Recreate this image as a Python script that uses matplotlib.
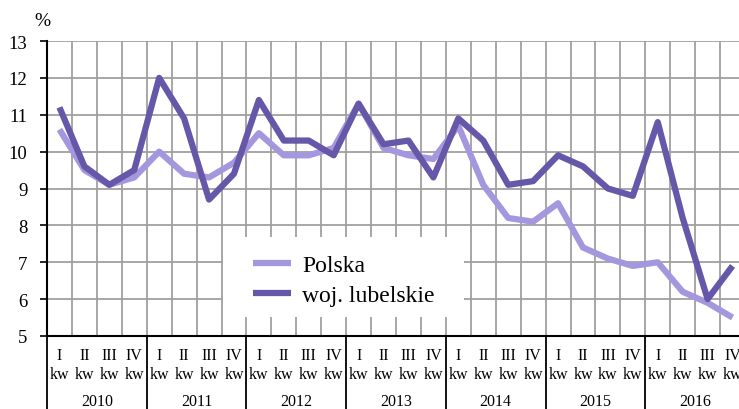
import matplotlib.pyplot as plt
import matplotlib.transforms as mtransforms
import matplotlib.patches as patches
import numpy as np

plt.rcParams['font.family'] = ['Liberation Serif', 'DejaVu Serif']

years = ['2010', '2011', '2012', '2013', '2014', '2015', '2016']
quarters = ['I', 'II', 'III', 'IV']

polska = [10.6, 9.5, 9.1, 9.3,
          10.0, 9.4, 9.3, 9.7,
          10.5, 9.9, 9.9, 10.1,
          11.3, 10.1, 9.9, 9.8,
          10.7, 9.1, 8.2, 8.1,
          8.6, 7.4, 7.1, 6.9,
          7.0, 6.2, 5.9, 5.5]
lubelskie = [11.2, 9.6, 9.1, 9.5,
             12.0, 10.9, 8.7, 9.4,
             11.4, 10.3, 10.3, 9.9,
             11.3, 10.2, 10.3, 9.3,
             10.9, 10.3, 9.1, 9.2,
             9.9, 9.6, 9.0, 8.8,
             10.8, 8.2, 6.0, 6.9]

LIGHT = '#a597de'
DARK = '#6657a8'
GRID = '#a0a0a0'

n = len(polska)
x = np.arange(n)

fig = plt.figure(figsize=(7.39, 4.10), dpi=100)
ax = fig.add_axes([47/739, 73/410, 698/739, 295/410])

ax.plot(x, polska, color=LIGHT, lw=4.5, label='Polska', solid_capstyle='butt', zorder=3)
ax.plot(x, lubelskie, color=DARK, lw=4.5, label='woj. lubelskie', solid_capstyle='butt', zorder=4)

ax.set_xlim(-0.5, n - 0.5)
ax.set_ylim(5, 13)
ax.set_yticks(range(5, 14))
ax.set_xticks(np.arange(-0.5, n, 1.0))
ax.set_xticklabels([])
ax.tick_params(axis='x', length=0)
ax.tick_params(axis='y', length=5, width=1.2, labelsize=13.5, pad=9, direction='out')
ax.grid(True, color=GRID, lw=1.3, zorder=0)

for s in ['top', 'right']:
    ax.spines[s].set_visible(False)
ax.spines['left'].set_linewidth(1.5)
ax.spines['bottom'].set_linewidth(1.5)

# quarter / year labels under the axis
trans = mtransforms.blended_transform_factory(ax.transData, ax.transAxes)
for i in range(n):
    ax.text(i, -0.063, quarters[i % 4], transform=trans, ha='center', va='center', fontsize=11.5)
    ax.text(i, -0.129, 'kw', transform=trans, ha='center', va='center', fontsize=11.5)
for k, yr in enumerate(years):
    ax.text(4 * k + 1.5, -0.219, yr, transform=trans, ha='center', va='center', fontsize=11.5)
for k in range(len(years) + 1):
    ax.plot([4 * k - 0.5, 4 * k - 0.5], [0, -0.26], transform=trans, color='black',
            lw=1.3, clip_on=False)

fig.text(42/739, 1 - 21/410, '%', ha='center', va='center', fontsize=14)

# white legend box hiding the grid
box = patches.Rectangle((0.252, 0.064), 0.345, 0.272, transform=ax.transAxes,
                        facecolor='white', edgecolor='none', zorder=5)
ax.add_patch(box)
leg = ax.legend(loc='center left', bbox_to_anchor=(0.295, 0.188), fontsize=17,
                frameon=False, handlelength=1.6, handletextpad=0.5,
                borderpad=0, borderaxespad=0, labelspacing=0.35)
leg.set_zorder(6)

fig.savefig('out.png', dpi=100, facecolor='white')
